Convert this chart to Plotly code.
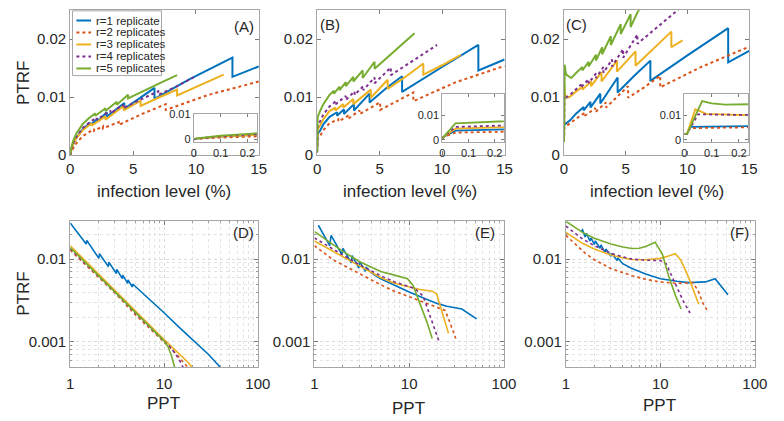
import plotly.graph_objects as go

W, H = 784, 421

names = ["r=1 replicate", "r=2 replicates", "r=3 replicates", "r=4 replicates", "r=5 replicates"]
colors = ["#0072BD", "#D95319", "#EDB120", "#7E2F8E", "#77AC30"]
dashes = ["solid", "dot", "solid", "dot", "solid"]
panel_labels = ["(A)", "(B)", "(C)", "(D)", "(E)", "(F)"]

# ---------------- Panel A (PTRF vs infection level %) ----------------
A_r1_x = [0, 0.01, 0.1, 0.24, 0.5, 1.0, 1.6, 1.6, 2.2, 2.2, 2.9, 2.9, 4.3, 4.3, 5.5, 6.7, 6.7, 9.5, 12.9, 12.9, 15]
A_r1_y = [0, 0.0003, 0.0011, 0.0019, 0.003, 0.0045, 0.0056, 0.0052, 0.0063, 0.0058, 0.0074, 0.0066, 0.0090, 0.0080, 0.0098, 0.0116, 0.0097, 0.0131, 0.0168, 0.0135, 0.0153]
A_r2_x = [0, 0.01, 0.1, 0.24, 0.5, 1.0, 1.9, 1.9, 2.6, 2.6, 3.85, 3.85, 5.7, 7.6, 7.6, 11, 15]
A_r2_y = [0, 0.0002, 0.0007, 0.0012, 0.0021, 0.0033, 0.0045, 0.0042, 0.005, 0.0046, 0.0057, 0.0052, 0.0071, 0.0088, 0.0078, 0.0104, 0.0127]
A_r3_x = [0, 0.01, 0.1, 0.24, 0.5, 1.0, 1.7, 1.7, 2.8, 2.8, 4.25, 4.25, 5.6, 5.6, 7.0, 8.5, 8.5, 10.3, 12.2]
A_r3_y = [0, 0.0003, 0.0011, 0.0019, 0.003, 0.0043, 0.0055, 0.0051, 0.0067, 0.0061, 0.0085, 0.0077, 0.0094, 0.0085, 0.0099, 0.0113, 0.0103, 0.0121, 0.0139]
A_r4_x = [0, 0.01, 0.1, 0.24, 0.5, 1.0, 1.5, 2.1, 2.1, 3.2, 3.2, 4.2, 4.2, 5.5, 7.0, 7.0, 8.5, 9.8]
A_r4_y = [0, 0.0003, 0.0012, 0.0021, 0.0032, 0.0047, 0.0056, 0.0065, 0.0061, 0.0077, 0.0072, 0.0087, 0.0081, 0.0095, 0.011, 0.0104, 0.0119, 0.0134]
A_r5_x = [0, 0.01, 0.1, 0.24, 0.5, 1.0, 1.5, 2.0, 2.0, 2.8, 2.8, 3.7, 3.7, 4.6, 4.6, 6.0, 7.3, 8.5]
A_r5_y = [0, 0.0004, 0.0015, 0.0025, 0.0038, 0.0054, 0.0064, 0.0072, 0.0068, 0.0081, 0.0076, 0.0092, 0.0087, 0.0104, 0.0098, 0.0113, 0.0126, 0.0138]

# ---------------- Panel B ----------------
B_r1_x = [0, 0.005, 0.05, 0.24, 0.5, 1.0, 1.6, 1.6, 2.15, 2.15, 2.95, 2.95, 4.2, 4.2, 5.5, 6.8, 6.8, 10, 12.9, 12.9, 15]
B_r1_y = [0.0005, 0.0012, 0.0037, 0.0042, 0.0053, 0.0066, 0.0074, 0.0068, 0.0079, 0.0071, 0.0088, 0.0077, 0.0106, 0.0091, 0.0115, 0.0136, 0.0109, 0.0152, 0.019, 0.0146, 0.0165]
B_r2_x = [0, 0.005, 0.05, 0.24, 0.5, 1.0, 1.7, 1.7, 2.5, 2.5, 3.4, 3.4, 5.05, 5.05, 7.7, 7.7, 11, 15]
B_r2_y = [0.0005, 0.0012, 0.0029, 0.0033, 0.0043, 0.0055, 0.0062, 0.0058, 0.0068, 0.0063, 0.0077, 0.0071, 0.0091, 0.0078, 0.0108, 0.0093, 0.0125, 0.0154]
B_r3_x = [0, 0.005, 0.05, 0.24, 0.5, 1.0, 1.45, 1.45, 2.1, 2.1, 2.9, 2.9, 4.3, 4.3, 5.65, 5.65, 7.0, 8.5, 8.5, 10, 11.5]
B_r3_y = [0.0005, 0.0012, 0.0045, 0.0051, 0.0062, 0.0076, 0.0082, 0.0077, 0.0088, 0.0082, 0.0097, 0.0088, 0.0113, 0.0099, 0.013, 0.0114, 0.0134, 0.0158, 0.0139, 0.0155, 0.0173]
B_r4_x = [0, 0.005, 0.05, 0.24, 0.5, 1.0, 1.5, 1.5, 2.3, 2.3, 3.0, 3.0, 3.7, 3.7, 4.6, 4.6, 5.9, 5.9, 7.8, 9.6]
B_r4_y = [0.0005, 0.0012, 0.0052, 0.0058, 0.007, 0.0084, 0.0093, 0.0088, 0.0102, 0.0095, 0.011, 0.0104, 0.0119, 0.0112, 0.0134, 0.0124, 0.0151, 0.0138, 0.0165, 0.019]
B_r5_x = [0, 0.005, 0.05, 0.24, 0.5, 1.0, 1.35, 1.35, 1.8, 1.8, 2.3, 2.3, 2.9, 2.9, 3.65, 3.65, 4.6, 4.6, 6.2, 7.8]
B_r5_y = [0.0005, 0.0012, 0.0066, 0.0076, 0.0088, 0.0104, 0.0111, 0.0106, 0.0118, 0.0112, 0.0126, 0.0119, 0.0135, 0.0127, 0.0146, 0.0133, 0.0161, 0.0149, 0.018, 0.021]

# ---------------- Panel C ----------------
C_r1_x = [0, 0.01, 0.02, 0.24, 0.5, 1.0, 1.6, 1.6, 2.15, 2.15, 2.95, 2.95, 4.35, 4.35, 5.7, 7.0, 7.0, 10, 13.3, 13.3, 15]
C_r1_y = [0.0023, 0.0025, 0.0052, 0.0055, 0.006, 0.0072, 0.0083, 0.0077, 0.0092, 0.0082, 0.0106, 0.0089, 0.0134, 0.0108, 0.0137, 0.0163, 0.0128, 0.0172, 0.0219, 0.016, 0.018]
C_r2_x = [0, 0.01, 0.02, 0.24, 0.5, 1.0, 1.7, 1.7, 2.55, 2.55, 3.4, 3.4, 5.2, 5.2, 6.5, 7.8, 7.8, 11, 15]
C_r2_y = [0.0023, 0.0025, 0.0047, 0.005, 0.0055, 0.0063, 0.0073, 0.0068, 0.0081, 0.0074, 0.0091, 0.0082, 0.0119, 0.0099, 0.0117, 0.0137, 0.0117, 0.0151, 0.0187]
C_r3_x = [0, 0.01, 0.04, 0.08, 0.24, 0.5, 1.0, 1.5, 1.5, 2.2, 2.2, 3.05, 3.05, 4.3, 4.3, 5.8, 5.8, 7.2, 8.7, 8.7, 9.6]
C_r3_y = [0.0023, 0.0025, 0.0124, 0.0105, 0.0099, 0.0101, 0.011, 0.0118, 0.0113, 0.0127, 0.0119, 0.0143, 0.0127, 0.0163, 0.0144, 0.0179, 0.0154, 0.0183, 0.0213, 0.0186, 0.0198]
C_r4_x = [0, 0.01, 0.05, 0.24, 0.5, 1.0, 1.4, 1.4, 2.0, 2.0, 2.6, 2.6, 3.2, 3.2, 3.9, 3.9, 4.8, 4.8, 5.95, 5.95, 7.5, 9.2, 9.6]
C_r4_y = [0.0023, 0.0025, 0.0103, 0.0100, 0.0104, 0.0115, 0.0122, 0.0117, 0.0131, 0.0124, 0.0141, 0.0133, 0.0152, 0.0142, 0.0165, 0.0153, 0.0183, 0.0168, 0.0208, 0.0192, 0.022, 0.025, 0.0257]
C_r5_x = [0, 0.01, 0.065, 0.1, 0.15, 0.24, 0.6, 1.0, 1.5, 1.5, 2.0, 2.0, 2.6, 2.6, 3.1, 3.1, 3.8, 3.8, 4.6, 4.6, 5.4, 5.4, 6.0, 6.5]
C_r5_y = [0.0023, 0.0025, 0.0156, 0.0147, 0.0142, 0.0138, 0.0133, 0.0142, 0.0152, 0.0146, 0.0161, 0.0153, 0.0173, 0.0163, 0.0186, 0.0174, 0.0205, 0.019, 0.0226, 0.0209, 0.0243, 0.0221, 0.0248, 0.026]

# ---------------- Panel D (PTRF vs PPT, log-log) ----------------
D_r1_x = [1.0, 1.48, 1.5, 2.02, 2.05, 2.55, 2.58, 3.1, 3.13, 3.6, 3.63, 4.1, 4.13, 4.6, 4.63, 5.5, 7, 10, 15, 20, 30, 40]
D_r1_y = [0.0272, 0.0152, 0.0168, 0.0102, 0.0116, 0.0081, 0.0092, 0.0067, 0.0075, 0.0058, 0.0064, 0.0051, 0.0056, 0.0046, 0.0050, 0.0042, 0.0032, 0.00225, 0.00145, 0.00108, 0.0007, 0.00049]
D_r2_x = [1, 2, 3, 5, 10, 12, 14, 16, 18]
D_r2_y = [0.0128, 0.006, 0.0039, 0.0021, 0.00101, 0.00082, 0.00068, 0.00058, 0.00049]
D_r3_x = [1, 2, 3, 5, 10, 12, 14, 16, 18, 20]
D_r3_y = [0.0145, 0.0066, 0.0042, 0.0023, 0.00107, 0.00088, 0.00075, 0.00065, 0.00057, 0.00049]
D_r4_x = [1, 2, 3, 5, 10, 11.5, 13, 14.5, 16]
D_r4_y = [0.0133, 0.0062, 0.004, 0.0022, 0.00104, 0.00088, 0.00074, 0.00061, 0.00049]
D_r5_x = [1, 2, 3, 5, 8, 10, 11, 12, 13]
D_r5_y = [0.0138, 0.0063, 0.0040, 0.0022, 0.0013, 0.00103, 0.00088, 0.00068, 0.00049]

# ---------------- Panel E ----------------
E_r1_x = [1.1, 1.45, 1.5, 1.95, 2.0, 2.45, 2.5, 2.95, 3.0, 3.45, 3.5, 4, 5, 7, 10, 15, 20, 25, 30, 36, 51.5]
E_r1_y = [0.0256, 0.0145, 0.0193, 0.0113, 0.0135, 0.0090, 0.0110, 0.0078, 0.0093, 0.0071, 0.0080, 0.0068, 0.0058, 0.0048, 0.0040, 0.0033, 0.0029, 0.0027, 0.0026, 0.0025, 0.0019]
E_r2_x = [1, 1.3, 1.6, 2, 3, 5, 7, 10, 15, 20, 24, 27, 31]
E_r2_y = [0.0145, 0.0115, 0.0097, 0.0085, 0.0066, 0.0049, 0.0041, 0.0035, 0.0029, 0.0026, 0.0024, 0.0017, 0.0011]
E_r3_x = [1, 1.5, 2, 3, 5, 7, 10, 13, 17.5, 19.5, 22.5, 26]
E_r3_y = [0.0165, 0.0128, 0.0107, 0.0083, 0.006, 0.0051, 0.0046, 0.0043, 0.0041, 0.0038, 0.0022, 0.00127]
E_r4_x = [1, 1.5, 2, 3, 5, 7, 10, 11.5, 14, 17, 20.5]
E_r4_y = [0.018, 0.0135, 0.0112, 0.0085, 0.0063, 0.0053, 0.0047, 0.0044, 0.0036, 0.0019, 0.00104]
E_r5_x = [1, 1.5, 2, 3, 4, 5, 7, 9.6, 11, 13, 15.5, 17.5]
E_r5_y = [0.0215, 0.0155, 0.0124, 0.0093, 0.0079, 0.0071, 0.0064, 0.0058, 0.0048, 0.0029, 0.0017, 0.0011]

# ---------------- Panel F ----------------
F_r1_x = [1.45, 1.5, 1.6, 1.65, 1.8, 1.85, 2.0, 2.05, 2.3, 2.35, 2.6, 2.65, 3, 3.05, 3.5, 3.55, 4, 5, 7, 10, 15, 20, 30, 38, 52]
F_r1_y = [0.0215, 0.0225, 0.0185, 0.0205, 0.0165, 0.018, 0.015, 0.0165, 0.0135, 0.0148, 0.012, 0.0132, 0.0108, 0.0117, 0.0096, 0.0103, 0.0088, 0.0077, 0.0066, 0.0058, 0.0054, 0.0052, 0.0053, 0.0058, 0.0037]
F_r2_x = [1, 1.3, 1.6, 2, 3, 5, 7, 10, 15, 22, 25, 28, 31.8]
F_r2_y = [0.0193, 0.0145, 0.0118, 0.0098, 0.0077, 0.0063, 0.0057, 0.0053, 0.0051, 0.0052, 0.0042, 0.003, 0.00232]
F_r3_x = [1, 1.5, 2, 3, 4, 5, 7, 10, 12, 14.4, 16.5, 19.8, 25.5]
F_r3_y = [0.021, 0.0155, 0.0132, 0.0112, 0.0104, 0.0099, 0.0098, 0.0102, 0.0108, 0.0116, 0.0097, 0.0061, 0.00285]
F_r4_x = [1, 1.5, 2, 3, 4, 5, 7, 10, 11.5, 14.4, 17.5, 20.6]
F_r4_y = [0.025, 0.0175, 0.0145, 0.0118, 0.0106, 0.01, 0.0097, 0.0096, 0.0088, 0.0049, 0.0031, 0.00224]
F_r5_x = [1, 1.5, 2, 3, 4, 5, 6, 7, 8.8, 10.5, 12.3, 14.5, 16.6]
F_r5_y = [0.0286, 0.021, 0.0178, 0.0152, 0.014, 0.0134, 0.0135, 0.0142, 0.016, 0.0115, 0.0061, 0.0036, 0.0025]

# Tick values / labels
top_xticks = [0, 5, 10, 15]
top_yticks = [0, 0.01, 0.02]
top_yticktext = ["0", "0.01", "0.02"]
log_xticks = [1, 10, 100]
log_xticktext = ["1", "10", "100"]
log_yticks = [0.001, 0.01]
log_yticktext = ["0.001", "0.01"]
inset_xticks = [0, 0.1, 0.2]
inset_xticktext = ["0", "0.1", "0.2"]
inset_yticks = [0, 0.01]
inset_yticktext = ["0", "0.01"]

series = {
    1: [(A_r1_x, A_r1_y), (A_r2_x, A_r2_y), (A_r3_x, A_r3_y), (A_r4_x, A_r4_y), (A_r5_x, A_r5_y)],
    2: [(B_r1_x, B_r1_y), (B_r2_x, B_r2_y), (B_r3_x, B_r3_y), (B_r4_x, B_r4_y), (B_r5_x, B_r5_y)],
    3: [(C_r1_x, C_r1_y), (C_r2_x, C_r2_y), (C_r3_x, C_r3_y), (C_r4_x, C_r4_y), (C_r5_x, C_r5_y)],
    4: [(D_r1_x, D_r1_y), (D_r2_x, D_r2_y), (D_r3_x, D_r3_y), (D_r4_x, D_r4_y), (D_r5_x, D_r5_y)],
    5: [(E_r1_x, E_r1_y), (E_r2_x, E_r2_y), (E_r3_x, E_r3_y), (E_r4_x, E_r4_y), (E_r5_x, E_r5_y)],
    6: [(F_r1_x, F_r1_y), (F_r2_x, F_r2_y), (F_r3_x, F_r3_y), (F_r4_x, F_r4_y), (F_r5_x, F_r5_y)],
}
# insets (axis 7,8,9) show panels A,B,C zoomed
inset_of = {7: 1, 8: 2, 9: 3}

FONT = "Liberation Sans, Arial, Helvetica, sans-serif"
TXT = "#262626"
LINE = "#a6a6a6"


def xdom(a, b):
    return [a / W, b / W]


def ydom(top, bot):
    return [1 - bot / H, 1 - top / H]


fig = go.Figure()


def add(axn, xs, ys, k, width):
    sfx = "" if axn == 1 else str(axn)
    fig.add_trace(go.Scatter(
        x=xs, y=ys, mode="lines", name=names[k], showlegend=False,
        line=dict(color=colors[k], width=width, dash=dashes[k]),
        xaxis="x" + sfx, yaxis="y" + sfx, hoverinfo="skip"))


for axn in range(1, 7):
    w = 2.0 if axn <= 3 else 1.6
    for k, (xs, ys) in enumerate(series[axn]):
        add(axn, xs, ys, k, w)
for axn, src in inset_of.items():
    for k, (xs, ys) in enumerate(series[src]):
        add(axn, xs, ys, k, 1.8)

base = dict(showline=True, linecolor=LINE, linewidth=1, mirror="ticks", ticks="inside",
            tickcolor="#7a7a7a", zeroline=False, showgrid=False,
            tickfont=dict(family=FONT, size=15, color=TXT))

top_x_dom = [xdom(67.7, 260.5), xdom(320, 511.7), xdom(572.3, 761.7)]
bot_x_dom = [xdom(67.7, 259.5), xdom(317.3, 511), xdom(574.3, 767.5)]
top_y_dom = ydom(4.3, 154.3)
bot_y_dom = ydom(222.7, 373.3)

lay = {}
for i in range(3):
    sfx = "" if i == 0 else str(i + 1)
    lay["xaxis" + sfx] = dict(base, domain=top_x_dom[i], range=[0, 15], tickvals=top_xticks,
                              ticklen=4, anchor="y" + sfx)
    lay["yaxis" + sfx] = dict(base, domain=top_y_dom, range=[0, 0.025], tickvals=top_yticks,
                              ticktext=top_yticktext, ticklen=4, anchor="x" + sfx)
for i in range(3):
    n = i + 4
    sfx = str(n)
    grid = dict(showgrid=True, gridcolor="#d9d9d9", griddash="dot", gridwidth=1)
    minor = dict(dtick="D1", showgrid=True, gridcolor="#e3e3e3", griddash="dot", gridwidth=1,
                 ticks="inside", ticklen=2, tickcolor="#9a9a9a")
    lay["xaxis" + sfx] = dict(base, **grid, type="log", domain=bot_x_dom[i], range=[0, 2],
                              tickvals=log_xticks, ticktext=log_xticktext, ticklen=4,
                              ticklabelstandoff=3, minor=minor, anchor="y" + sfx)
    lay["yaxis" + sfx] = dict(base, **grid, type="log", domain=bot_y_dom, range=[-3.301, -1.544],
                              tickvals=log_yticks, ticktext=log_yticktext, ticklen=4,
                              minor=minor, anchor="x" + sfx)

inset_x_dom = {7: xdom(194, 258.5), 8: xdom(448, 511), 9: xdom(695.5, 761)}
inset_y_dom = {7: ydom(112, 141), 8: ydom(91, 141), 9: ydom(91, 141)}
inset_y_rng = {7: [-0.0012, 0.0101], 8: [-0.001, 0.0185], 9: [-0.001, 0.0185]}
for n in (7, 8, 9):
    sfx = str(n)
    ib = dict(base, tickfont=dict(family=FONT, size=11, color=TXT), ticklen=3)
    lay["xaxis" + sfx] = dict(ib, domain=inset_x_dom[n], range=[0, 0.235], tickvals=inset_xticks,
                              ticktext=inset_xticktext, anchor="y" + sfx)
    lay["yaxis" + sfx] = dict(ib, domain=inset_y_dom[n], range=inset_y_rng[n], tickvals=inset_yticks,
                              ticktext=inset_yticktext, anchor="x" + sfx)

annotations = []


def txt(px, py, s, size, angle=0, xanchor="center"):
    annotations.append(dict(x=px / W, y=1 - py / H, xref="paper", yref="paper", text=s,
                            showarrow=False, textangle=angle, xanchor=xanchor, yanchor="middle",
                            font=dict(family=FONT, size=size, color=TXT)))


# axis titles
txt(20, 80, "PTRF", 17, angle=-90)
txt(20, 298, "PTRF", 17, angle=-90)
for cx in (163.5, 415, 667):
    txt(cx, 192, "infection level (%)", 17)
for cx, cy in ((163, 411), (413, 416), (670, 413)):
    txt(cx, cy, "PPT", 17)
# panel labels
for (px, py), s in zip(((245, 21), (333, 19), (585, 19), (245, 234), (492, 234), (752, 234)), panel_labels):
    txt(px, py, s, 15)

# legend (panel A, top-left)
shapes = [dict(type="rect", xref="paper", yref="paper", x0=70 / W, x1=161 / W,
               y0=1 - 72 / H, y1=1 - 5 / H, line=dict(color=LINE, width=1), fillcolor="white",
               layer="above")]
leg_y = [15, 27.4, 39.8, 52.2, 64.6]
for k in range(5):
    shapes.append(dict(type="line", xref="paper", yref="paper", x0=74 / W, x1=89 / W,
                       y0=1 - leg_y[k] / H, y1=1 - leg_y[k] / H, layer="above",
                       line=dict(color=colors[k], width=2, dash=dashes[k])))
    txt(92, leg_y[k], names[k], 11.5, xanchor="left")

fig.update_layout(width=W, height=H, margin=dict(l=0, r=0, t=0, b=0),
                  paper_bgcolor="white", plot_bgcolor="white",
                  font=dict(family=FONT, color=TXT), annotations=annotations, shapes=shapes,
                  showlegend=False, **lay)

fig.write_html("out.html", config={"displayModeBar": False},
               post_script="document.body.style.margin='0';document.body.style.padding='0';")
